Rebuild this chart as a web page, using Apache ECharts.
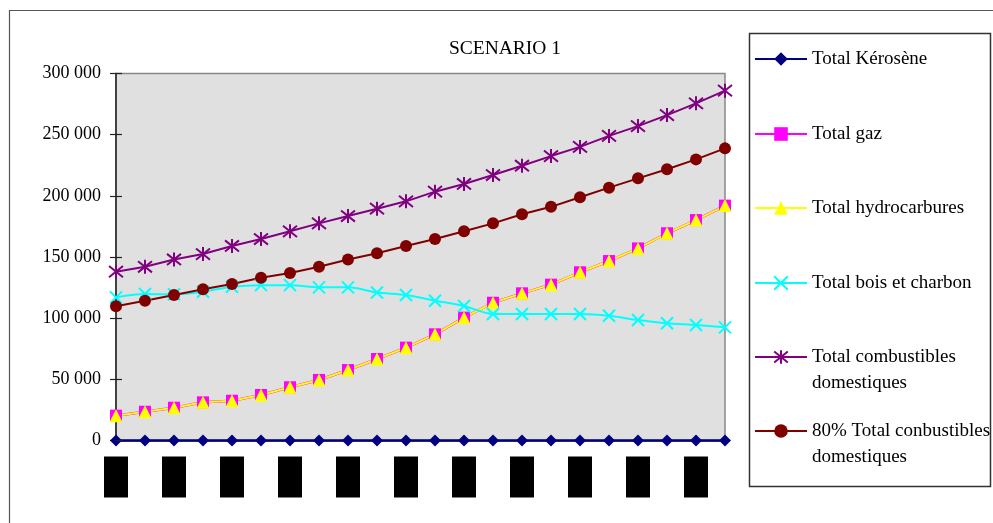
<!DOCTYPE html>
<html>
<head>
<meta charset="utf-8">
<title>SCENARIO 1</title>
<script src="https://cdn.jsdelivr.net/npm/echarts@6/dist/echarts.min.js"></script>
<style>
  html, body { margin: 0; padding: 0; background: #ffffff; }
  #chart { width: 993px; height: 523px; }
</style>
</head>
<body>
<div id="chart"></div>
<script>
// Years of the projection (one point per year)
var years = ['2005', '2006', '2007', '2008', '2009', '2010', '2011', '2012', '2013', '2014', '2015',
             '2016', '2017', '2018', '2019', '2020', '2021', '2022', '2023', '2024', '2025', '2026'];

// Series values
var kerosene = [0, 0, 0, 0, 0, 0, 0, 0, 0, 0, 0, 0, 0, 0, 0, 0, 0, 0, 0, 0, 0, 0];
var gaz = [20300, 23500, 26800, 31200, 32500, 37200, 43500, 49500, 57600, 66600, 75900,
           86800, 100400, 112600, 120300, 127400, 137500, 146700, 157000, 169400, 180200, 192000];
var hydrocarbures = [20300, 23500, 26800, 31200, 32500, 37200, 43500, 49500, 57600, 66600, 75900,
                     86800, 100400, 112600, 120300, 127400, 137500, 146700, 157000, 169400, 180200, 192000];
var boisCharbon = [117000, 119700, 119500, 121600, 125700, 127000, 127000, 125200, 125200, 121000, 119000,
                   114300, 110000, 103400, 103400, 103400, 103400, 102000, 98500, 95800, 94400, 92500];
var combustibles = [138000, 142000, 148000, 152400, 159000, 164700, 171000, 177500, 183500, 189500, 195500,
                    203400, 209700, 217000, 224600, 232500, 240000, 249000, 257000, 266000, 275600, 286000];
var combustibles80 = [109800, 114300, 119000, 123600, 128000, 133000, 137000, 142000, 148000, 153000, 159000,
                      164700, 171000, 177500, 185000, 191000, 198800, 206700, 214300, 221700, 229800, 238800];

// Value axis ticks
var yTicks = [0, 50000, 100000, 150000, 200000, 250000, 300000];

var names = [
  'Total Kérosène',
  'Total gaz',
  'Total hydrocarbures',
  'Total bois et charbon',
  'Total combustibles domestiques',
  '80% Total conbustibles domestiques'
];
// Legend wording, first line next to the key, optional second line below it
var legendLine1 = [
  'Total Kérosène',
  'Total gaz',
  'Total hydrocarbures',
  'Total bois et charbon',
  'Total combustibles',
  '80% Total conbustibles'
];
var legendLine2 = ['', '', '', '', 'domestiques', 'domestiques'];
var legendCenters = [59, 134, 208, 283, 357, 431];

var SERIF = '"Liberation Serif", "Times New Roman", serif';
var crossPath = 'path://M0,0L10,10M10,0L0,10';
var starPath = 'path://M5,0L5,10M1,1L9,9M9,1L1,9';

function fmtThousands(v) {
  if (v === 0) return '0';
  var s = String(v);
  return s.slice(0, s.length - 3) + ' ' + s.slice(s.length - 3);
}

function lineSeries(name, data, color, symbol, size, width, strokeSymbol, extra) {
  var s = {
    name: name,
    type: 'line',
    data: data,
    xAxisIndex: 0,
    yAxisIndex: 0,
    symbol: symbol,
    symbolSize: size,
    showAllSymbol: true,
    lineStyle: { color: color, width: width },
    itemStyle: strokeSymbol
      ? { color: color, borderColor: color, borderWidth: 2 }
      : { color: color, borderWidth: 0 },
    emphasis: { disabled: true }
  };
  if (extra) { for (var k in extra) s[k] = extra[k]; }
  return s;
}

var legends = names.map(function (n, i) {
  var text = legendLine1[i];
  return {
    data: [n],
    left: 754,
    top: legendCenters[i] - 12.5,
    padding: 0,
    orient: 'vertical',
    selectedMode: false,
    itemWidth: 52,
    itemHeight: 17,
    formatter: function () { return text; },
    textStyle: {
      fontFamily: SERIF,
      fontSize: 19,
      color: '#000',
      lineHeight: 25
    }
  };
});

var graphics = [
  {
    type: 'rect', z: -10, silent: true,
    shape: { x: 9.5, y: 10.5, width: 1000, height: 530 },
    style: { fill: '#ffffff', stroke: '#555555', lineWidth: 1.2 }
  },
  {
    type: 'rect', z: -5, silent: true,
    shape: { x: 749.5, y: 33.5, width: 241, height: 453 },
    style: { fill: '#ffffff', stroke: '#333333', lineWidth: 1.5 }
  }
];
legendLine2.forEach(function (t, i) {
  if (!t) return;
  graphics.push({
    type: 'text', silent: true,
    x: 812, y: legendCenters[i] + 26,
    style: {
      text: t, fontFamily: SERIF, fontSize: 19, fill: '#000',
      verticalAlign: 'middle', align: 'left'
    }
  });
});

var plotBox = { left: 116, top: 73.5, right: 268, bottom: 82.5 };

var chart = echarts.init(document.getElementById('chart'), null, { renderer: 'canvas' });

chart.setOption({
  animation: false,
  backgroundColor: '#ffffff',
  title: {
    text: 'SCENARIO 1',
    left: 505,
    top: 39,
    padding: 0,
    textAlign: 'center',
    textStyle: { fontFamily: SERIF, fontSize: 19.5, fontWeight: 'normal', color: '#000' }
  },
  graphic: graphics,
  legend: legends,
  grid: [
    {
      left: plotBox.left, top: plotBox.top, right: plotBox.right, bottom: plotBox.bottom,
      show: true,
      backgroundColor: '#e0e0e0',
      borderColor: '#888888',
      borderWidth: 1.5,
      containLabel: false
    },
    {
      // Same frame, only used for the inner half of the value-axis ticks
      left: plotBox.left, top: plotBox.top, right: plotBox.right, bottom: plotBox.bottom,
      show: false,
      containLabel: false
    }
  ],
  xAxis: [
    {
      type: 'category',
      gridIndex: 0,
      data: years,
      boundaryGap: false,
      axisLine: { show: true, lineStyle: { color: '#222', width: 1.5 } },
      axisTick: { show: false },
      splitLine: { show: false },
      axisLabel: {
        interval: 1,
        margin: 16,
        fontSize: 9,
        color: '#000',
        backgroundColor: '#000',
        width: 24,
        height: 41,
        align: 'center',
        verticalAlign: 'top'
      }
    },
    {
      type: 'category',
      gridIndex: 1,
      data: years,
      boundaryGap: false,
      show: false
    }
  ],
  yAxis: [
    {
      type: 'value',
      gridIndex: 0,
      position: 'left',
      min: yTicks[0],
      max: yTicks[yTicks.length - 1],
      interval: yTicks[1] - yTicks[0],
      axisLine: { show: true, lineStyle: { color: '#222', width: 1.5 } },
      axisTick: { show: true, length: 6, lineStyle: { color: '#222', width: 1.2 } },
      splitLine: { show: false },
      axisLabel: {
        margin: 15,
        fontFamily: SERIF,
        fontSize: 18,
        color: '#000',
        formatter: fmtThousands
      }
    },
    {
      type: 'value',
      gridIndex: 1,
      position: 'left',
      z: 5,
      min: yTicks[0],
      max: yTicks[yTicks.length - 1],
      interval: yTicks[1] - yTicks[0],
      axisLine: { show: false },
      axisTick: { show: true, inside: true, length: 6, lineStyle: { color: '#222', width: 1.2 } },
      splitLine: { show: false },
      axisLabel: { show: false }
    }
  ],
  series: [
    lineSeries(names[0], kerosene, '#000080', 'diamond', 12, 2.5, false),
    lineSeries(names[1], gaz, '#ff00ff', 'rect', 12, 2.5, false),
    lineSeries(names[2], hydrocarbures, '#ffff00', 'triangle', 13, 2, false),
    lineSeries(names[3], boisCharbon, '#00ffff', crossPath, 12, 2, true, { smooth: 0.3 }),
    lineSeries(names[4], combustibles, '#800080', starPath, 14, 2, true),
    lineSeries(names[5], combustibles80, '#800000', 'circle', 12, 2, false)
  ]
});
</script>
</body>
</html>
